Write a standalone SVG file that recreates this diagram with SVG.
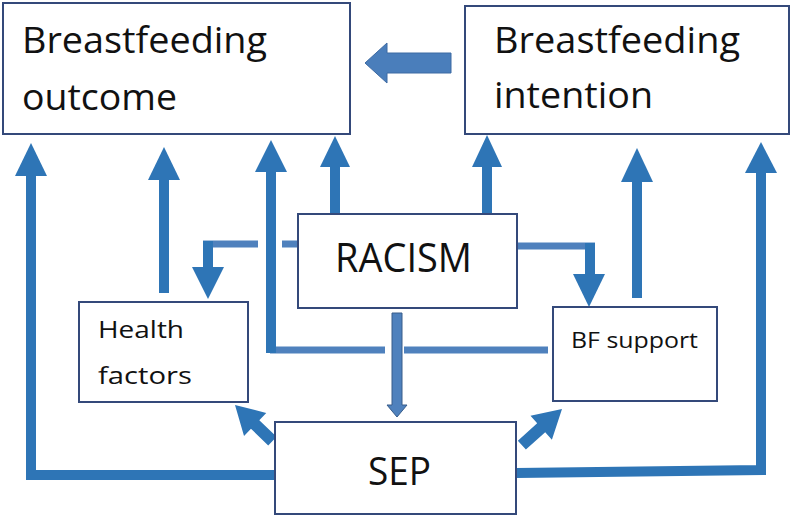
<svg xmlns="http://www.w3.org/2000/svg" width="792" height="516" viewBox="0 0 792 516">
<style>
.box{fill:#ffffff;stroke:#34497a;stroke-width:2}
.t{font-family:"Open Sans","Liberation Sans",sans-serif;fill:#111111}
.thick{fill:none;stroke:#2e75b6;stroke-width:10;stroke-linejoin:miter}
.thin{fill:none;stroke:#4f81bd;stroke-width:7}
.head{fill:#2e75b6}
</style>
<rect width="792" height="516" fill="#ffffff"/>
<g id="connectors">
  <!-- SEP -> BF outcome (left) -->
  <path class="thick" d="M274,475 H31 V172"/>
  <polygon class="head" points="31,143 47,176 15,176"/>
  <!-- Health factors -> BF outcome -->
  <path class="thick" d="M164,293 V176"/>
  <polygon class="head" points="164,147 180,180 148,180"/>
  <!-- BF support -> BF outcome -->
  <path class="thin" d="M548,350 H404 M385,350 H270"/>
  <path class="thick" d="M271,353 V168"/>
  <polygon class="head" points="271,140 287,172 255,172"/>
  <!-- RACISM -> BF outcome -->
  <path class="thick" d="M335,213 V163"/>
  <polygon class="head" points="335,136 350,167 320,167"/>
  <!-- RACISM -> BF intention -->
  <path class="thick" d="M487,213 V163"/>
  <polygon class="head" points="487,135 502,167 472,167"/>
  <!-- BF support -> BF intention -->
  <path class="thick" d="M637,298 V178"/>
  <polygon class="head" points="637,148 653,182 621,182"/>
  <!-- SEP -> BF intention (right) -->
  <path class="thick" d="M516,473 L761,470 V169"/>
  <polygon class="head" points="761,142 777,173 745,173"/>
  <!-- RACISM -> Health factors -->
  <path class="thin" d="M298,244 H282 M258,244 H203"/>
  <path class="thick" d="M208,241 V270"/>
  <polygon class="head" points="208,299 224,267 192,267"/>
  <!-- RACISM -> BF support -->
  <path class="thin" d="M518,246 H595"/>
  <path class="thick" d="M590,243 V277"/>
  <polygon class="head" points="589,307 605,274 573,274"/>
  <!-- RACISM -> SEP -->
  <polygon points="392,313 402,313 402,405 407,405 397,417 387,405 392,405" fill="#4f81bd" stroke="#385d8a" stroke-width="1"/>
  <!-- SEP -> Health factors -->
  <polygon class="head" transform="translate(235,405) rotate(-136)" points="0,0 -28,-16 -28,-6 -52,-6 -52,6 -28,6 -28,16"/>
  <!-- SEP -> BF support -->
  <polygon class="head" transform="translate(562,409) rotate(-42)" points="0,0 -28,-16 -28,-6 -54,-6 -54,6 -28,6 -28,16"/>
  <!-- BF intention -> BF outcome -->
  <polygon points="365,63 387,43 387,53 451,53 451,73 387,73 387,83" fill="#4a7ebb" stroke="#3d6aa3" stroke-width="1"/>
</g>
<g id="bf-outcome">
  <rect class="box" x="3" y="3" width="347" height="131"/>
  <text class="t" x="22" y="53" font-size="36" textLength="245" lengthAdjust="spacingAndGlyphs">Breastfeeding</text>
  <text class="t" x="22" y="110" font-size="36" textLength="155" lengthAdjust="spacingAndGlyphs">outcome</text>
</g>
<g id="bf-intention">
  <rect class="box" x="465" y="6" width="324" height="128"/>
  <text class="t" x="494" y="53" font-size="36" textLength="246" lengthAdjust="spacingAndGlyphs">Breastfeeding</text>
  <text class="t" x="494" y="108" font-size="36" textLength="159" lengthAdjust="spacingAndGlyphs">intention</text>
</g>
<g id="racism">
  <rect class="box" x="298" y="214" width="219" height="94"/>
  <text class="t" x="335" y="272" font-size="40" textLength="137" lengthAdjust="spacingAndGlyphs">RACISM</text>
</g>
<g id="health-factors">
  <rect class="box" x="79" y="302" width="169" height="100"/>
  <text class="t" x="98" y="338" font-size="23" textLength="86" lengthAdjust="spacingAndGlyphs">Health</text>
  <text class="t" x="98" y="384" font-size="23" textLength="94" lengthAdjust="spacingAndGlyphs">factors</text>
</g>
<g id="bf-support">
  <rect class="box" x="553" y="307" width="164" height="94"/>
  <text class="t" x="571" y="348" font-size="22" textLength="127" lengthAdjust="spacingAndGlyphs">BF support</text>
</g>
<g id="sep">
  <rect class="box" x="275" y="422" width="241" height="92"/>
  <text class="t" x="368" y="485" font-size="39" textLength="63" lengthAdjust="spacingAndGlyphs">SEP</text>
</g>
</svg>
